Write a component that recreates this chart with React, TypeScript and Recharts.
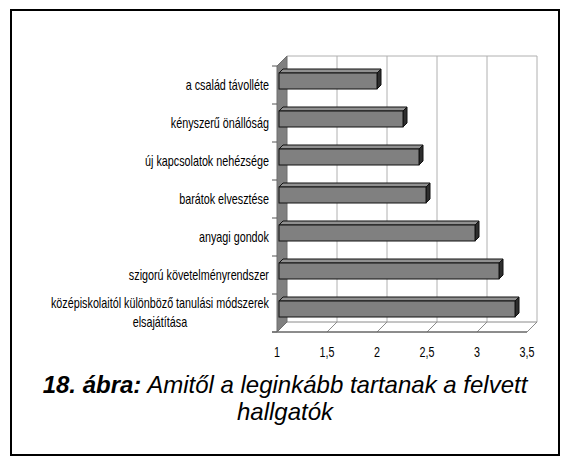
import React from 'react';
import { BarChart, Bar, XAxis, YAxis, ReferenceArea } from 'recharts';

const categories = [
  'a család távolléte',
  'kényszerű önállóság',
  'új kapcsolatok nehézsége',
  'barátok elvesztése',
  'anyagi gondok',
  'szigorú követelményrendszer',
  'középiskolaitól különböző tanulási módszerek\nelsajátítása',
];
const values = [1.98, 2.24, 2.4, 2.47, 2.96, 3.2, 3.36];
const xTicks = [1, 1.5, 2, 2.5, 3, 3.5];
const xTickLabels = ['1', '1,5', '2', '2,5', '3', '3,5'];
const captionBold = '18. ábra:';
const captionLine1 = ' Amitől a leginkább tartanak a felvett';
const captionLine2 = 'hallgatók';

const data = categories.map((name, i) => ({ name, value: values[i] }));

const FONT = "'Liberation Sans', Arial, sans-serif";
const FS = 14;
const NARROW = 0.77;
const WALL = 10;

let ctx: CanvasRenderingContext2D | null = null;
const measure = (s: string) => {
  if (!ctx) {
    const c = document.createElement('canvas');
    ctx = c.getContext('2d');
  }
  if (!ctx) return s.length * 7;
  ctx.font = `${FS}px ${FONT}`;
  return ctx.measureText(s).width;
};

const CatTick = (props: any) => {
  const { x, y, payload } = props;
  const lines = String(payload.value).split('\n');
  const W = Math.max(...lines.map(measure));
  const lh = 19;
  const y0 = -((lines.length - 1) * lh) / 2;
  return (
    <text
      transform={`translate(${x},${y}) scale(${NARROW},1)`}
      fill="#000"
      fontSize={FS}
      fontFamily={FONT}
      textAnchor="middle"
    >
      {lines.map((l, i) => (
        <tspan key={i} x={-W / 2} y={y0 + i * lh} dy="0.35em">
          {l}
        </tspan>
      ))}
    </text>
  );
};

const XTick = (props: any) => {
  const { x, y, payload } = props;
  const label = xTickLabels[xTicks.indexOf(payload.value)] ?? String(payload.value);
  return (
    <text
      transform={`translate(${x},${y}) scale(${NARROW},1)`}
      fill="#000"
      fontSize={FS}
      fontFamily={FONT}
      textAnchor="middle"
      dy="0.71em"
    >
      {label}
    </text>
  );
};

const Frame = (p: any) => {
  const { x, y, width, height } = p;
  const D = WALL;
  const n = xTicks.length - 1;
  const cats = categories.length;
  const grid = [];
  for (let i = 1; i <= n; i++) {
    const gx = x + D + (i * width) / n;
    grid.push(<line key={'g' + i} x1={gx} y1={y - D} x2={gx} y2={y + height - D} stroke="#b0b0b0" strokeWidth={1} />);
  }
  const diag = [];
  for (let i = 0; i <= n; i++) {
    const gx = x + (i * width) / n;
    diag.push(<line key={'d' + i} x1={gx} y1={y + height} x2={gx + D} y2={y + height - D} stroke="#8a8a8a" strokeWidth={1} />);
  }
  const cticks = [];
  for (let j = 0; j <= cats; j++) {
    const ty = y + (j * height) / cats;
    cticks.push(<line key={'c' + j} x1={x - 5} y1={ty} x2={x} y2={ty} stroke="#555" strokeWidth={1} />);
  }
  return (
    <g>
      <rect x={x + D} y={y - D} width={width} height={height} fill="#fff" />
      {grid}
      <line x1={x + D} y1={y - D} x2={x + D + width} y2={y - D} stroke="#b0b0b0" strokeWidth={1} />
      <polygon
        points={`${x},${y + height} ${x + D},${y + height - D} ${x + D + width},${y + height - D} ${x + width},${y + height}`}
        fill="#fff"
        stroke="#8a8a8a"
        strokeWidth={1}
      />
      {diag}
      <line x1={x - 5} y1={y + height} x2={x + width} y2={y + height} stroke="#555" strokeWidth={1} />
      <polygon
        points={`${x},${y} ${x + D},${y - D} ${x + D},${y + height - D} ${x},${y + height}`}
        fill="#808080"
        stroke="#6e6e6e"
        strokeWidth={1}
      />
      {cticks}
    </g>
  );
};

const Bar3D = (p: any) => {
  const { x, y, width, height } = p;
  if (width == null || height == null) return null;
  const fx = x + 2;
  const fy = y - 4;
  const d = 4;
  return (
    <g>
      <polygon
        points={`${fx},${fy} ${fx + d},${fy - d} ${fx + width + d},${fy - d} ${fx + width},${fy}`}
        fill="#909090"
        stroke="#111"
        strokeWidth={1}
      />
      <polygon
        points={`${fx + width},${fy} ${fx + width + d},${fy - d} ${fx + width + d},${fy + height - d} ${fx + width},${fy + height}`}
        fill="#2e2e2e"
        stroke="#111"
        strokeWidth={1}
      />
      <rect x={fx} y={fy} width={width} height={height} fill="#808080" stroke="#111" strokeWidth={1} />
    </g>
  );
};

export default function App() {
  return (
    <div style={{ position: 'absolute', left: 0, top: 0, width: 571, height: 461, background: '#fff' }}>
      <div
        style={{
          position: 'absolute',
          left: 10,
          top: 9,
          width: 550,
          height: 447,
          boxSizing: 'border-box',
          border: '2px solid #000',
        }}
      />
      <div style={{ position: 'absolute', left: 0, top: 0 }}>
        <BarChart
          width={571}
          height={461}
          data={data}
          layout="vertical"
          margin={{ top: 66, right: 44, bottom: 99, left: 0 }}
          barSize={16}
        >
          <XAxis
            type="number"
            domain={[1, 3.5]}
            ticks={xTicks}
            interval={0}
            allowDataOverflow
            axisLine={false}
            tickLine={false}
            height={30}
            tickMargin={9}
            tick={<XTick />}
          />
          <YAxis
            type="category"
            dataKey="name"
            width={277}
            interval={0}
            axisLine={false}
            tickLine={false}
            tick={<CatTick />}
          />
          <ReferenceArea x1={1} x2={3.5} ifOverflow="visible" shape={Frame} />
          <Bar dataKey="value" shape={Bar3D} isAnimationActive={false} />
        </BarChart>
      </div>
      <div
        style={{
          position: 'absolute',
          left: 10,
          top: 371,
          width: 550,
          textAlign: 'center',
          fontFamily: "'Liberation Sans', Arial, sans-serif",
          fontSize: 24,
          fontStyle: 'italic',
          lineHeight: '27px',
          color: '#000',
        }}
      >
        <b>{captionBold}</b>
        {captionLine1}
        <br />
        {captionLine2}
      </div>
    </div>
  );
}
